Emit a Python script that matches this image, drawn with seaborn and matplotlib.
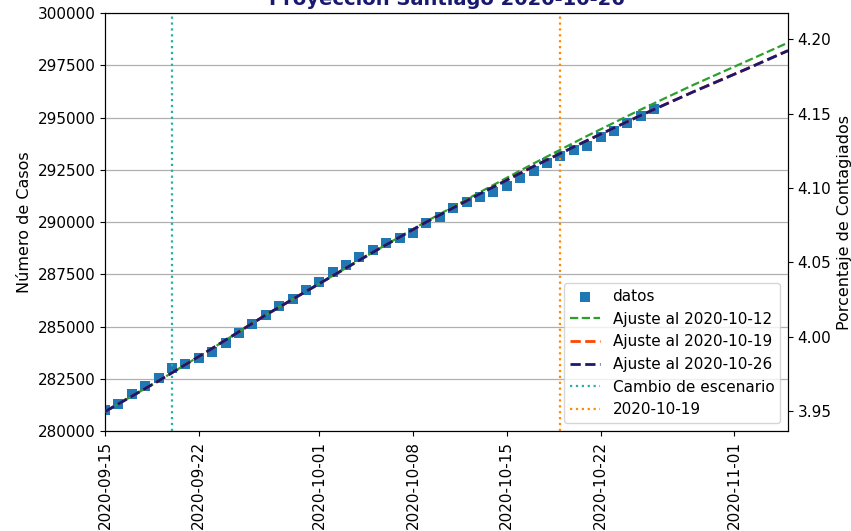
import numpy as np
import pandas as pd
import matplotlib
matplotlib.use("Agg")
import matplotlib.pyplot as plt
import matplotlib.dates as mdates
import seaborn as sns

# ---- data ----
poblacion = 7112808
fechas_datos = pd.date_range("2020-09-15", "2020-10-26", freq="D")
casos = [281000, 281290, 281770, 282150, 282560, 283010, 283230, 283470, 283780, 284190,
         284690, 285100, 285530, 285960, 286320, 286750, 287130, 287610, 287940, 288330,
         288660, 289000, 289240, 289470, 289950, 290260, 290670, 290960, 291200, 291440,
         291720, 292110, 292440, 292820, 293160, 293440, 293640, 294070, 294350, 294740,
         295070, 295410]

fechas_ajuste = pd.to_datetime(["2020-09-15", "2020-09-19", "2020-09-23", "2020-09-27",
                                "2020-10-01", "2020-10-05", "2020-10-09", "2020-10-13",
                                "2020-10-17", "2020-10-21", "2020-10-25", "2020-10-29",
                                "2020-11-02", "2020-11-05"])
ajuste_1012 = [280930, 282400, 283950, 285550, 287050, 288550, 290030, 291430,
               292800, 294120, 295380, 296580, 297720, 298580]
ajuste_1019 = [280930, 282400, 283950, 285550, 287050, 288550, 290000, 291350,
               292660, 293900, 295100, 296250, 297350, 298200]
ajuste_1026 = [280930, 282400, 283950, 285550, 287050, 288550, 290000, 291350,
               292660, 293900, 295100, 296250, 297350, 298200]

fecha_cambio = pd.Timestamp("2020-09-20")
fecha_corte = pd.Timestamp("2020-10-19")
yticks_left = [280000, 282500, 285000, 287500, 290000, 292500, 295000, 297500, 300000]
yticks_right = [3.95, 4.00, 4.05, 4.10, 4.15, 4.20]
xticks = pd.to_datetime(["2020-09-15", "2020-09-22", "2020-10-01", "2020-10-08",
                         "2020-10-15", "2020-10-22", "2020-11-01"])

df_datos = pd.DataFrame({"fecha": fechas_datos, "casos": casos})
df_aj = pd.DataFrame({"fecha": fechas_ajuste, "a1012": ajuste_1012,
                      "a1019": ajuste_1019, "a1026": ajuste_1026})

fig = plt.figure(figsize=(8.51, 5.31), dpi=100)
ax = fig.add_axes([0.1234, 0.1883, 0.8026, 0.7872])

sns.scatterplot(data=df_datos, x="fecha", y="casos", marker="s", s=50, color="#1f77b4",
                linewidth=0, label="datos", ax=ax, zorder=2)
sns.lineplot(data=df_aj, x="fecha", y="a1012", color="#2ca02c", linestyle="--", lw=1.6,
             label="Ajuste al 2020-10-12", ax=ax, zorder=3)
sns.lineplot(data=df_aj, x="fecha", y="a1019", color="orangered", linestyle="--", lw=2,
             label="Ajuste al 2020-10-19", ax=ax, zorder=3)
sns.lineplot(data=df_aj, x="fecha", y="a1026", color="midnightblue", linestyle="--", lw=2,
             label="Ajuste al 2020-10-26", ax=ax, zorder=4)
ax.axvline(fecha_cambio, color="lightseagreen", linestyle=":", lw=1.6, label="Cambio de escenario")
ax.axvline(fecha_corte, color="darkorange", linestyle=":", lw=1.6, label="2020-10-19")

ax.set_xlim(pd.Timestamp("2020-09-15"), pd.Timestamp("2020-11-05"))
ax.set_ylim(280000, 300000)
ax.set_yticks(yticks_left)
ax.set_yticklabels([str(v) for v in yticks_left])
ax.set_xticks(xticks)
ax.xaxis.set_major_formatter(mdates.DateFormatter("%Y-%m-%d"))
ax.tick_params(labelsize=11)
plt.setp(ax.get_xticklabels(), rotation=90)
ax.grid(axis="y", color="#b0b0b0", lw=0.9)
ax.set_axisbelow(True)
ax.set_xlabel("")
ax.set_ylabel("Número de Casos", fontsize=11.5)
ax.set_title("Proyección Santiago 2020-10-26", color="midnightblue", fontweight="bold", fontsize=14)

ax2 = ax.twinx()
ax2.set_ylim(280000 / poblacion * 100, 300000 / poblacion * 100)
ax2.set_yticks(yticks_right)
ax2.set_yticklabels([f"{v:.2f}" for v in yticks_right])
ax2.tick_params(labelsize=11)
ax2.set_ylabel("Porcentaje de Contagiados", fontsize=11.5)

ax.legend(loc="lower right", fontsize=11, framealpha=0.8)
ax.set_zorder(ax2.get_zorder() + 1)
ax.patch.set_visible(False)

fig.savefig("out.png", dpi=100)
